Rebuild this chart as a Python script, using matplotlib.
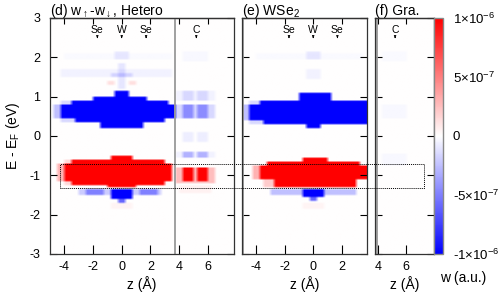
import matplotlib
matplotlib.use("Agg")
import matplotlib.pyplot as plt
import numpy as np
from matplotlib.patches import Rectangle

plt.rcParams['font.family'] = ['Liberation Sans', 'DejaVu Sans']
plt.rcParams['mathtext.fontset'] = 'custom'
plt.rcParams['mathtext.rm'] = 'Liberation Sans'
plt.rcParams['mathtext.it'] = 'Liberation Sans:italic'
plt.rcParams['axes.unicode_minus'] = False

# weight maps, units of 1e-6
# each entry: (E_low, E_high, z_low, z_high, w)
hetero_blobs = [
    # conduction band (WSe2 side)
    (1.00, 1.15, -0.5, 0.5, -1.6),
    (0.90, 1.00, -2.0, 1.75, -1.6),
    (0.80, 0.90, -3.5, 3.25, -1.6),
    (0.45, 0.80, -4.25, 3.75, -1.6),
    (0.45, 0.80, -4.75, -4.25, -0.25),
    (0.35, 0.45, -3.25, 3.0, -1.6),
    (0.20, 0.35, -1.5, 1.5, -1.6),
    (0.80, 0.90, -4.25, -3.5, -0.15),
    (0.35, 0.45, -4.25, -3.25, -0.15),
    # graphene side
    (0.45, 0.80, 3.75, 6.5, -0.15),
    (0.45, 0.80, 4.25, 5.0, -0.3),
    (0.45, 0.80, 5.25, 6.0, -0.3),
    (0.90, 1.15, 3.75, 6.5, -0.05),
    (0.90, 1.15, 4.25, 5.0, -0.1),
    (0.90, 1.15, 5.25, 6.0, -0.1),
    (-0.15, 0.10, 4.25, 5.0, -0.07),
    (-0.15, 0.10, 5.25, 6.0, -0.07),
    (-0.55, -0.40, 3.75, 6.5, -0.05),
    (-0.55, -0.40, 4.25, 5.0, -0.25),
    (-0.55, -0.40, 5.25, 6.0, -0.25),
    (-1.20, -0.80, 3.75, 6.5, 0.25),
    (-1.15, -0.80, 4.25, 5.0, 1.6),
    (-1.15, -0.80, 5.25, 6.0, 1.6),
    (-1.45, -1.25, 4.0, 6.25, 0.05),
    # upper states
    (1.30, 1.40, -1.0, -0.5, 0.12),
    (1.30, 1.40, 0.5, 1.0, 0.12),
    (1.50, 1.70, -4.25, 3.5, -0.05),
    (1.20, 1.85, -0.25, 0.25, -0.1),
    (1.50, 1.60, -0.75, 0.75, -0.12),
    (1.95, 2.15, -0.5, 0.5, -0.08),
    (1.95, 2.10, -4.0, 3.5, -0.02),
    (1.90, 2.15, 4.25, 6.0, -0.03),
    # valence band
    (-0.60, -0.50, -0.75, 0.75, 1.6),
    (-0.70, -0.60, -3.5, 3.0, 1.6),
    (-1.15, -0.70, -4.0, 3.5, 1.6),
    (-1.15, -0.70, -4.5, -4.0, 0.3),
    (-1.25, -1.15, -3.5, 3.0, 1.6),
    (-1.30, -1.25, -1.0, 1.0, 1.6),
    (-0.70, -0.60, -4.0, -3.5, 0.15),
    (-1.25, -1.15, -4.0, -3.5, 0.15),
    (-1.60, -1.35, -0.75, 0.75, -1.6),
    (-1.70, -1.60, -0.25, 0.25, -0.6),
    (-1.50, -1.35, -3.0, -0.75, -0.2),
    (-1.50, -1.35, 0.75, 2.75, -0.2),
    (-1.50, -1.35, -2.5, -1.25, -0.3),
    (-1.50, -1.35, 1.25, 2.5, -0.3),
    (-1.85, -1.70, -0.75, 0.75, 0.04),
]

wse2_blobs = [
    (0.90, 1.10, -1.0, 1.25, -1.6),
    (0.80, 0.90, -3.75, 3.78, -1.6),
    (0.40, 0.80, -4.5, 3.78, -1.6),
    (0.40, 0.80, -5.0, -4.5, -0.25),
    (0.30, 0.40, -3.5, 3.78, -1.6),
    (0.20, 0.30, -0.5, 0.5, -1.0),
    (0.80, 0.90, -4.5, -3.75, -0.15),
    (0.30, 0.40, -4.5, -3.5, -0.15),
    (1.95, 2.15, -0.5, 0.5, -0.08),
    (1.45, 1.70, -0.5, 0.5, -0.05),
    (1.95, 2.10, -4.0, 3.5, -0.02),
    (-0.65, -0.55, -0.75, 1.0, 1.6),
    (-0.75, -0.65, -3.25, 3.25, 1.6),
    (-1.10, -0.75, -3.75, 3.78, 1.6),
    (-1.10, -0.75, -4.25, -3.75, 0.3),
    (-1.30, -1.10, -2.75, 3.0, 1.6),
    (-1.30, -1.10, -3.5, -2.75, 0.2),
    (-1.55, -1.35, -0.75, 0.75, -1.6),
    (-1.65, -1.55, -0.25, 0.25, -0.6),
    (-1.50, -1.35, -3.0, -0.75, -0.25),
    (-1.50, -1.35, 0.75, 3.0, -0.25),
    (-1.85, -1.70, -0.75, 0.75, 0.04),
]

gra_blobs = [
    (0.45, 0.80, 4.25, 6.0, -0.03),
    (-0.75, -0.45, 4.25, 6.0, -0.03),
    (1.90, 2.15, 4.25, 6.0, -0.02),
]

panel_titles = ["(d) w$_{\\uparrow}$-w$_{\\downarrow}$, Hetero", "(e) WSe$_2$", "(f) Gra."]
panel_zlims = [(-5.0, 7.83), (-5.0, 3.78), (3.77, 7.97)]
panel_xticks = [[-4, -2, 0, 2, 4, 6], [-4, -2, 0, 2], [4, 6]]
panel_atoms = [
    [("Se", -1.7), ("W", 0.0), ("Se", 1.7), ("C", 5.2)],
    [("Se", -1.7), ("W", 0.0), ("Se", 1.7)],
    [("C", 5.2)],
]
panel_lines = [3.73, -4.95, 3.88]   # grey interface / edge lines
yticks = [-3, -2, -1, 0, 1, 2, 3]
cbar_ticks = [-1e-6, -5e-7, 0, 5e-7, 1e-6]
cbar_labels = ["-1×10$^{-6}$", "-5×10$^{-7}$", "0", "5×10$^{-7}$", "1×10$^{-6}$"]


def build_map(blobs, zlim, dz=0.25, de=0.05):
    zc = np.arange(zlim[0] + dz / 2, zlim[1], dz)
    ec = np.arange(-3 + de / 2, 3, de)
    w = np.zeros((len(ec), len(zc)))
    for elo, ehi, zlo, zhi, amp in blobs:
        rows = (ec >= elo) & (ec < ehi)
        cols = (zc >= zlo) & (zc < zhi)
        w[np.ix_(rows, cols)] += amp
    ext = [zlim[0], zlim[0] + dz * len(zc), -3, 3]
    return w * 1e-6, ext


W, H = 498, 299
fig = plt.figure(figsize=(W / 100, H / 100), dpi=100)

boxes = [(50, 234), (242, 367), (375, 434)]
top, bottom = 18, 254

for i, (l, r) in enumerate(boxes):
    ax = fig.add_axes([l / W, (H - bottom) / H, (r - l) / W, (bottom - top) / H])
    zl = panel_zlims[i]
    wmap, ext = build_map([hetero_blobs, wse2_blobs, gra_blobs][i], zl)
    im = ax.imshow(wmap, extent=ext, origin='lower', aspect='auto',
                   cmap='bwr', vmin=-1e-6, vmax=1e-6, interpolation='bilinear')
    ax.set_xlim(*zl)
    ax.set_ylim(-3, 3)
    ax.axvline(panel_lines[i], color='#999999', lw=1.3)
    ax.set_xticks(panel_xticks[i])
    ax.set_yticks(yticks)
    ax.tick_params(axis='x', direction='in', length=6.5, width=0.8, labelsize=9, pad=5)
    ax.tick_params(axis='y', direction='in', length=5, width=0.8, labelsize=9, pad=7,
                   right=True)
    if i > 0:
        ax.tick_params(axis='y', labelleft=False)
    sec = ax.secondary_xaxis('top')
    sec.set_xticks(panel_xticks[i])
    sec.tick_params(direction='in', length=4.5, width=0.8, labeltop=False)
    for sp in list(ax.spines.values()) + list(sec.spines.values()):
        sp.set_linewidth(0.9)
        sp.set_color('#333333')
    ax.set_xlabel("z (Å)", fontsize=10, labelpad=2)
    # title baseline about 15 px from the top of the figure
    ax.text(0, (bottom - 15) / (bottom - top), panel_titles[i], transform=ax.transAxes,
            ha='left', va='baseline', fontsize=10)
    for name, z in panel_atoms[i]:
        ax.text(z, 0.951, name, transform=ax.get_xaxis_transform(), ha='center',
                va='center', fontsize=7.5)
        ax.annotate('', xy=(z, 0.903), xytext=(z, 0.93),
                    xycoords=ax.get_xaxis_transform(), textcoords=ax.get_xaxis_transform(),
                    arrowprops=dict(arrowstyle='-|>', lw=0.6, mutation_scale=3, color='k'))

fig.text(13 / W, (H - 136) / H, "E - E$_\\mathrm{F}$ (eV)", rotation=90,
         ha='center', va='center', fontsize=10)

# colour bar
cax = fig.add_axes([434 / W, (H - bottom) / H, 9 / W, (bottom - top) / H])
cb = fig.colorbar(im, cax=cax)
cb.set_ticks(cbar_ticks)
cb.set_ticklabels(cbar_labels)
cb.ax.tick_params(length=0, labelsize=9.5, pad=7)
cb.outline.set_edgecolor('#888888')
cb.outline.set_linewidth(1.0)
fig.text(463 / W, (H - 278) / H, "w (a.u.)", ha='center', va='center', fontsize=10)

# dotted box around the valence band feature
fig.patches.append(Rectangle((60 / W, (H - 188.3) / H), 364 / W, 24 / H,
                             transform=fig.transFigure, fill=False, ls=(0, (1, 1)),
                             lw=0.7, ec='black', zorder=10))

fig.savefig("out.png", dpi=100)
